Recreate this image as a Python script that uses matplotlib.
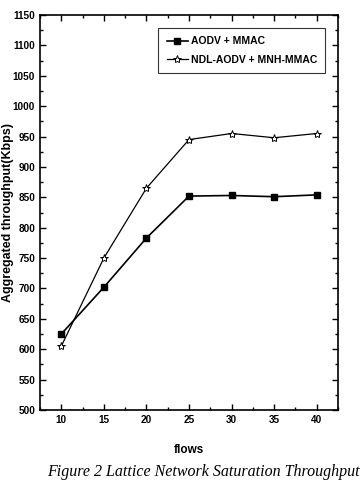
import matplotlib
matplotlib.use("Agg")
import matplotlib.pyplot as plt
from matplotlib.ticker import MultipleLocator

flows = [10, 15, 20, 25, 30, 35, 40]
aodv_mmac = [625, 702, 783, 852, 853, 851, 854]
ndl_mnh = [605, 750, 865, 945, 955, 948, 955]

plt.rcParams["font.family"] = ["Liberation Sans", "DejaVu Sans"]

fig = plt.figure(figsize=(3.6, 4.82), dpi=100)
ax = fig.add_axes([40 / 360, 72 / 482, 298 / 360, 395 / 482])

ax.plot(flows, aodv_mmac, color="black", lw=1.2, marker="s", ms=5,
        markerfacecolor="black", label="AODV + MMAC")
ax.plot(flows, ndl_mnh, color="black", lw=0.9, marker="*", ms=6,
        markerfacecolor="white", markeredgewidth=0.7, label="NDL-AODV + MNH-MMAC")

ax.set_xlim(7.5, 42.5)
ax.set_ylim(500, 1150)
ax.xaxis.set_major_locator(MultipleLocator(5))
ax.xaxis.set_minor_locator(MultipleLocator(2.5))
ax.yaxis.set_major_locator(MultipleLocator(50))
ax.yaxis.set_minor_locator(MultipleLocator(25))
ax.tick_params(which="both", direction="in", top=True, right=True,
               labelsize=7.2, width=1)
ax.tick_params(which="major", length=4)
ax.tick_params(which="minor", length=2)
for lab in ax.get_xticklabels() + ax.get_yticklabels():
    lab.set_fontweight("bold")
for sp in ax.spines.values():
    sp.set_linewidth(1.2)

ax.set_xlabel("flows", fontsize=8.5, fontweight="bold", labelpad=14)
ax.set_ylabel("Aggregated throughput(Kbps)", fontsize=9, fontweight="bold")
ax.yaxis.set_label_coords(-0.088, 0.5)

leg = ax.legend(loc="upper right", bbox_to_anchor=(0.975, 0.98), fontsize=7.5,
                frameon=True, fancybox=False, edgecolor="black",
                handlelength=2.0, borderpad=0.8, labelspacing=0.8,
                handletextpad=0.3)
leg.get_frame().set_linewidth(0.8)
for t in leg.get_texts():
    t.set_fontweight("bold")

fig.text(0.13, 0.012, "Figure 2 Lattice Network Saturation Throughput",
         fontsize=11.5, style="italic", family=["Liberation Serif", "DejaVu Serif"])

fig.savefig("out.png", dpi=100)
